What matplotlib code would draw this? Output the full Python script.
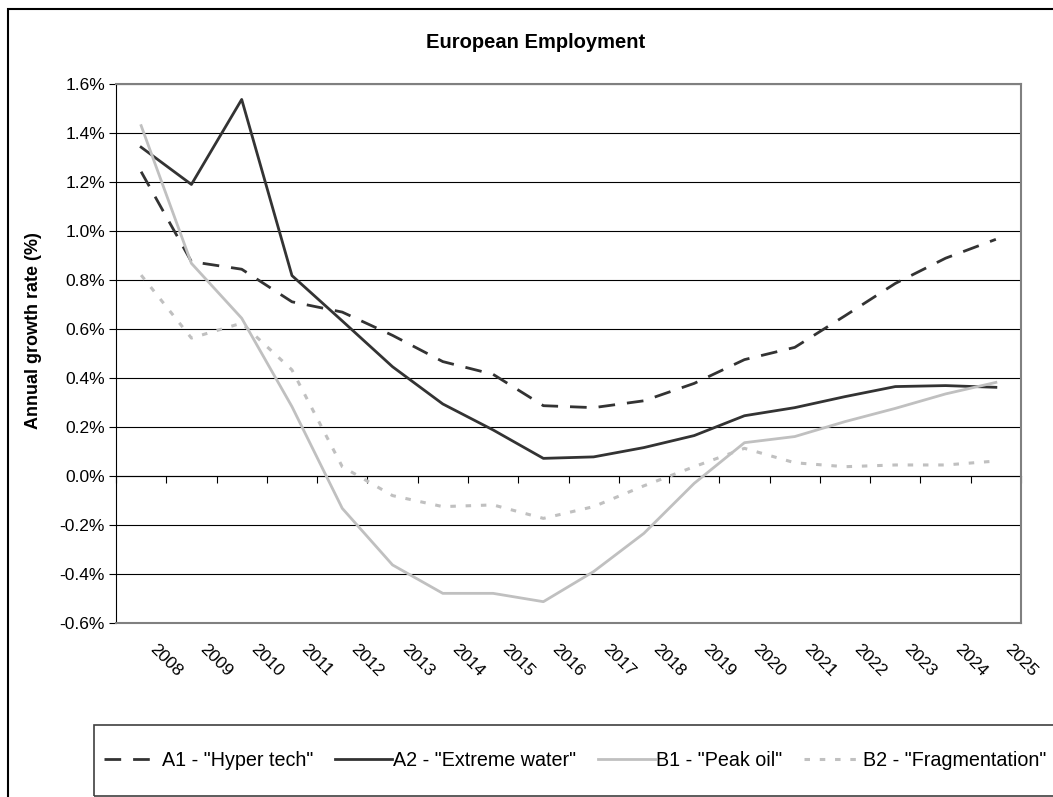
import numpy as np
import matplotlib.pyplot as plt
from matplotlib.patches import Rectangle
from matplotlib.ticker import FuncFormatter
from matplotlib.transforms import ScaledTranslation

plt.rcParams['font.family'] = ['Liberation Sans', 'DejaVu Sans']

years = [str(y) for y in range(2008, 2026)]
a1 = [1.242, 0.875, 0.844, 0.711, 0.669, 0.574, 0.467, 0.415, 0.287, 0.279,
      0.307, 0.378, 0.475, 0.525, 0.654, 0.786, 0.889, 0.966]
a2 = [1.342, 1.190, 1.537, 0.818, 0.633, 0.446, 0.294, 0.188, 0.072, 0.078,
      0.116, 0.165, 0.246, 0.279, 0.324, 0.365, 0.369, 0.362]
b1 = [1.430, 0.868, 0.644, 0.283, -0.132, -0.363, -0.479, -0.479, -0.513, -0.390,
      -0.234, -0.030, 0.136, 0.161, 0.222, 0.276, 0.335, 0.382]
b2 = [0.820, 0.563, 0.624, 0.433, 0.038, -0.080, -0.125, -0.118, -0.173, -0.125,
      -0.040, 0.038, 0.113, 0.054, 0.038, 0.045, 0.045, 0.061]
labels = ['A1 - "Hyper tech"', 'A2 - "Extreme water"', 'B1 - "Peak oil"', 'B2 - "Fragmentation"']

W, H = 1053, 797
fig = plt.figure(figsize=(W / 100, H / 100), dpi=100)
ax = fig.add_axes([116 / W, 1 - 623 / H, (1021 - 116) / W, (623 - 84) / H])

x = np.arange(len(years))
dark = '#333333'
light = '#c0c0c0'
l1, = ax.plot(x, a1, color=dark, lw=2.0, ls=(0, (6, 4.3)))
l2, = ax.plot(x, a2, color=dark, lw=2.0)
l3, = ax.plot(x, b1, color=light, lw=2.0)
l4, = ax.plot(x, b2, color=light, lw=2.2, ls=(0, (1.8, 3.2)))

ax.set_xlim(-0.5, len(years) - 0.5)
ax.set_ylim(-0.6, 1.6)
ax.set_yticks(np.arange(-0.6, 1.61, 0.2))
ax.yaxis.set_major_formatter(FuncFormatter(lambda v, p: '{:.1f}%'.format(v)))
ax.yaxis.grid(True, color='black', lw=0.8)
ax.set_axisbelow(True)
ax.tick_params(axis='y', direction='out', length=5, labelsize=12.5, color='black', pad=3)

ax.set_xticks(x)
ax.set_xticklabels(years, rotation=-45, ha='left', va='bottom', rotation_mode='anchor', fontsize=12.5)
ax.tick_params(axis='x', length=0, pad=21)
shift = ScaledTranslation(6 / 100, 0, fig.dpi_scale_trans)
for lab in ax.get_xticklabels():
    lab.set_transform(lab.get_transform() + shift)

for s in ['top', 'right', 'bottom']:
    ax.spines[s].set_color('#808080')
    ax.spines[s].set_linewidth(1.5)
ax.spines['left'].set_color('black')

# zero line with category ticks
sec = ax.secondary_xaxis(0.6 / 2.2)
sec.set_xticks(np.arange(-0.5, len(years), 1))
sec.set_xticklabels([])
sec.tick_params(direction='out', length=5, color='black')
sec.spines['bottom'].set_color('black')

ax.set_ylabel('Annual growth rate (%)', fontsize=13, fontweight='bold')
ax.yaxis.set_label_coords(-0.082, 0.542)

fig.text(536 / W, 1 - 43 / H, 'European Employment', fontsize=14.5, fontweight='bold',
         ha='center', va='center')

# outer chart border and legend box
fig.add_artist(Rectangle((8 / W, -0.05), 2, 1 - 9 / H + 0.05, transform=fig.transFigure,
                         fill=False, ec='black', lw=1.5))
fig.add_artist(Rectangle((94 / W, 1 / H), 2, (797 - 725 - 1) / H, transform=fig.transFigure,
                         fill=False, ec='#404040', lw=1.2))

fig.legend([l1, l2, l3, l4], labels, loc='center left', bbox_to_anchor=(104 / W, 1 - 760 / H),
           ncol=4, frameon=False, fontsize=14.2, handlelength=2.9, handletextpad=0.05,
           columnspacing=1.1, borderaxespad=0, borderpad=0)

fig.savefig('out.png', dpi=100)
